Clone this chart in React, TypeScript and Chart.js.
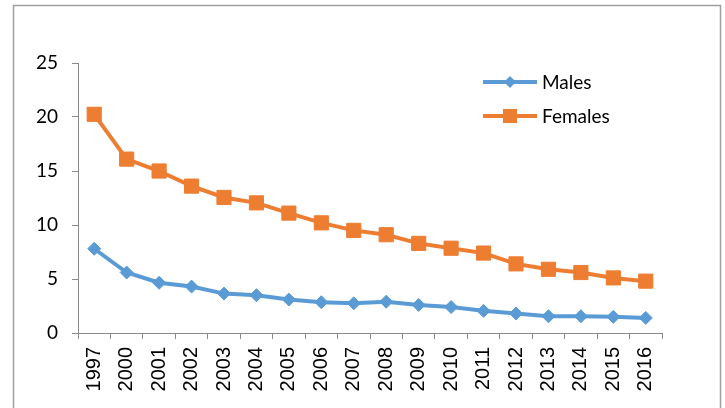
import React, { useEffect, useRef } from "react";
import { Chart, registerables } from "chart.js";

Chart.register(...registerables);

const years = ["1997", "2000", "2001", "2002", "2003", "2004", "2005", "2006", "2007", "2008", "2009", "2010", "2011", "2012", "2013", "2014", "2015", "2016"];
const males = [7.8, 5.6, 4.65, 4.3, 3.65, 3.5, 3.1, 2.85, 2.75, 2.9, 2.6, 2.4, 2.05, 1.8, 1.55, 1.55, 1.5, 1.4];
const females = [20.25, 16.1, 15.0, 13.6, 12.55, 12.05, 11.1, 10.2, 9.5, 9.1, 8.3, 7.85, 7.4, 6.4, 5.9, 5.6, 5.1, 4.8];
const seriesNames = ["Males", "Females"];
const seriesColors = ["#5B9BD5", "#ED7D31"];
const yTicks = [0, 5, 10, 15, 20, 25];

const framePlugin = {
  id: "frame",
  beforeDraw(chart: any) {
    const ctx = chart.ctx;
    ctx.save();
    ctx.fillStyle = "#ffffff";
    ctx.fillRect(0, 0, chart.width, chart.height);
    ctx.strokeStyle = "#a0a0a0";
    ctx.lineWidth = 1.5;
    ctx.strokeRect(13.5, 5.5, 707, 430);
    ctx.restore();
  },
};

const legendPlugin = {
  id: "customLegend",
  afterDraw(chart: any) {
    const ctx = chart.ctx;
    ctx.save();
    const x0 = 483;
    const x1 = 537;
    const rows = [82, 116];
    chart.data.datasets.forEach((ds: any, i: number) => {
      const y = rows[i];
      ctx.strokeStyle = ds.borderColor;
      ctx.lineWidth = 4;
      ctx.beginPath();
      ctx.moveTo(x0, y);
      ctx.lineTo(x1, y);
      ctx.stroke();
      ctx.fillStyle = ds.borderColor;
      const cx = (x0 + x1) / 2;
      if (i === 0) {
        ctx.beginPath();
        ctx.moveTo(cx, y - 6);
        ctx.lineTo(cx + 6, y);
        ctx.lineTo(cx, y + 6);
        ctx.lineTo(cx - 6, y);
        ctx.closePath();
        ctx.fill();
      } else {
        ctx.fillRect(cx - 7, y - 7, 14, 14);
      }
      ctx.fillStyle = "#000000";
      ctx.font = "19px Lato, 'Open Sans', sans-serif";
      ctx.textBaseline = "middle";
      ctx.textAlign = "left";
      ctx.fillText(ds.label, 542, y + 1);
    });
    ctx.restore();
  },
};

export default function App() {
  const ref = useRef<HTMLCanvasElement | null>(null);
  useEffect(() => {
    document.body.style.margin = "0";
    if (!ref.current) return;
    const chart = new Chart(ref.current, {
      type: "line",
      data: {
        labels: years,
        datasets: [
          {
            label: seriesNames[0],
            data: males,
            borderColor: seriesColors[0],
            backgroundColor: seriesColors[0],
            borderWidth: 4,
            pointStyle: "rectRot",
            pointRadius: 6.5,
            pointBorderWidth: 1,
            tension: 0,
          },
          {
            label: seriesNames[1],
            data: females,
            borderColor: seriesColors[1],
            backgroundColor: seriesColors[1],
            borderWidth: 4,
            pointStyle: "rect",
            pointRadius: 10,
            pointBorderWidth: 1,
            tension: 0,
          },
        ],
      },
      options: {
        animation: false,
        responsive: false,
        maintainAspectRatio: false,
        layout: { padding: { left: 0, top: 63, right: 63, bottom: 0 } },
        plugins: { legend: { display: false }, tooltip: { enabled: false } },
        scales: {
          x: {
            type: "category",
            offset: true,
            grid: { offset: true, drawOnChartArea: false, drawTicks: true, tickLength: 6, color: "#8a8a8a" },
            border: { color: "#8a8a8a", width: 1 },
            ticks: {
              minRotation: 90,
              maxRotation: 90,
              autoSkip: false,
              padding: 8,
              color: "#000000",
              font: { family: "'Liberation Sans', Arial, sans-serif", size: 20 },
            },
            afterFit: (s: any) => {
              s.height = 75;
            },
          },
          y: {
            min: 0,
            max: 25,
            afterBuildTicks: (s: any) => {
              s.ticks = yTicks.map((v) => ({ value: v }));
            },
            grid: { drawOnChartArea: false, drawTicks: true, tickLength: 6, color: "#8a8a8a" },
            border: { color: "#8a8a8a", width: 1 },
            ticks: {
              padding: 14,
              color: "#000000",
              font: { family: "Lato, 'Open Sans', sans-serif", size: 19 },
            },
            afterFit: (s: any) => {
              s.width = 78;
            },
          },
        },
      },
      plugins: [framePlugin, legendPlugin],
    });
    return () => chart.destroy();
  }, []);
  return (
    <div style={{ width: 725, height: 408 }}>
      <canvas ref={ref} width={725} height={408} style={{ width: 725, height: 408, display: "block" }} />
    </div>
  );
}
